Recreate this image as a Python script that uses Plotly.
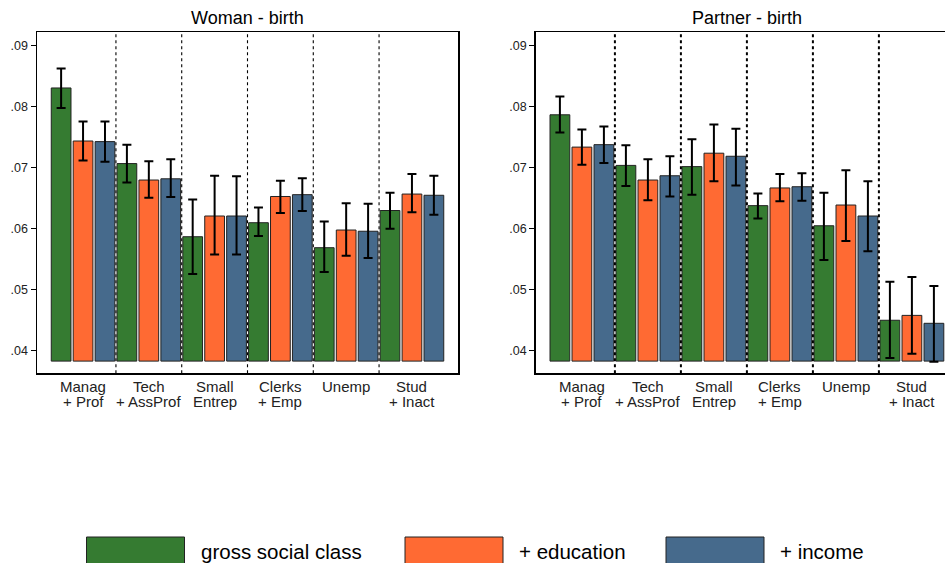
import plotly.graph_objects as go

W, H = 945, 563

categories_line1 = ["Manag", "Tech", "Small", "Clerks", "Unemp", "Stud"]
categories_line2 = ["+ Prof", "+ AssProf", "Entrep", "+ Emp", "", "+ Inact"]
series_names = ["gross social class", "+ education", "+ income"]
colors = ["#357b31", "#ff6a33", "#466a8c"]
bar_base = 0.0382

# Woman - birth
woman_val = [
    [0.0830, 0.0706, 0.0586, 0.0609, 0.0568, 0.0629],
    [0.0743, 0.0679, 0.0620, 0.0652, 0.0597, 0.0656],
    [0.0742, 0.0681, 0.0620, 0.0655, 0.0595, 0.0654],
]
woman_hi = [
    [0.0862, 0.0737, 0.0647, 0.0634, 0.0611, 0.0658],
    [0.0775, 0.0710, 0.0686, 0.0678, 0.0641, 0.0689],
    [0.0775, 0.0713, 0.0685, 0.0682, 0.0640, 0.0686],
]
woman_lo = [
    [0.0797, 0.0675, 0.0525, 0.0587, 0.0528, 0.0599],
    [0.0711, 0.0650, 0.0557, 0.0625, 0.0555, 0.0626],
    [0.0709, 0.0651, 0.0557, 0.0628, 0.0551, 0.0622],
]

# Partner - birth
partner_val = [
    [0.0786, 0.0703, 0.0701, 0.0637, 0.0604, 0.0449],
    [0.0733, 0.0679, 0.0723, 0.0666, 0.0638, 0.0457],
    [0.0737, 0.0686, 0.0718, 0.0668, 0.0620, 0.0444],
]
partner_hi = [
    [0.0816, 0.0736, 0.0746, 0.0657, 0.0658, 0.0512],
    [0.0762, 0.0713, 0.0770, 0.0689, 0.0695, 0.0520],
    [0.0767, 0.0718, 0.0763, 0.0690, 0.0677, 0.0505],
]
partner_lo = [
    [0.0757, 0.0669, 0.0655, 0.0616, 0.0548, 0.0387],
    [0.0704, 0.0646, 0.0677, 0.0644, 0.0579, 0.0394],
    [0.0707, 0.0652, 0.0670, 0.0645, 0.0562, 0.0381],
]

ytick_vals = [0.04, 0.05, 0.06, 0.07, 0.08, 0.09]
ytick_text = [".04", ".05", ".06", ".07", ".08", ".09"]

xs = list(range(len(categories_line1)))

fig = go.Figure()

def add_panel(vals, his, los, xa, ya):
    for k in range(3):
        v = vals[k]
        fig.add_trace(go.Bar(
            x=xs, y=[a - bar_base for a in v], base=bar_base,
            name=series_names[k], showlegend=False,
            marker=dict(color=colors[k], line=dict(color="#222222", width=1)),
            error_y=dict(type="data", symmetric=False,
                         array=[h - a for h, a in zip(his[k], v)],
                         arrayminus=[a - l for a, l in zip(v, los[k])],
                         color="black", thickness=2, width=4.5),
            xaxis=xa, yaxis=ya, offsetgroup=str(k),
        ))

add_panel(woman_val, woman_hi, woman_lo, "x", "y")
add_panel(partner_val, partner_hi, partner_lo, "x2", "y2")

px = lambda p: p / W
py = lambda p: 1 - p / H

UNIT = 66.0
left_dom = [px(37), px(458)]
right_dom = [px(535.7), 1.0]
right_end = -0.7 + (W - 535.7) / UNIT
y_dom = [py(373.3), py(32.3)]
y_rng = [0.0362, 0.09213]

FAM = "Liberation Sans, Arial, sans-serif"
cat_font = dict(family=FAM, size=15, color="#222222")
tick_font = dict(family=FAM, size=12.5, color="#222222")

common_x = dict(tickvals=xs, showticklabels=False, ticks="", showgrid=False, zeroline=False,
                showline=True, linecolor="black", linewidth=1.5)
common_y = dict(range=y_rng, tickvals=ytick_vals, ticktext=ytick_text, ticks="outside",
                ticklen=5, tickcolor="black", tickwidth=1, showgrid=False, zeroline=False,
                showline=True, linecolor="black", linewidth=1.5, tickfont=tick_font)

fig.update_layout(
    width=W, height=H,
    margin=dict(l=0, r=0, t=0, b=0),
    paper_bgcolor="white", plot_bgcolor="white",
    barmode="group", bargap=0, bargroupgap=0.1,
    hovermode=False,
    xaxis=dict(domain=left_dom, range=[-0.7, 5.7], anchor="y", mirror=True, **common_x),
    yaxis=dict(domain=y_dom, anchor="x", mirror=True, **common_y),
    xaxis2=dict(domain=right_dom, range=[-0.7, right_end], anchor="y2", mirror=True, **common_x),
    yaxis2=dict(domain=y_dom, anchor="x2", mirror=False, **common_y),
)

# category labels (two lines, tight spacing)
for xa in ("x", "x2"):
    for i in range(len(xs)):
        fig.add_annotation(text=categories_line1[i], x=xs[i], y=py(386.5), xref=xa, yref="paper",
                           showarrow=False, font=cat_font, xanchor="center", yanchor="middle")
        if categories_line2[i]:
            fig.add_annotation(text=categories_line2[i], x=xs[i], y=py(401.5), xref=xa,
                               yref="paper", showarrow=False, font=cat_font,
                               xanchor="center", yanchor="middle")

# group dividers
for xa, ya, lw in (("x", "y domain", 1.1), ("x2", "y2 domain", 2)):
    for d in [0.5, 1.5, 2.5, 3.5, 4.5]:
        fig.add_shape(type="line", xref=xa, yref=ya, x0=d, x1=d, y0=0, y1=1,
                      line=dict(color="black", width=lw, dash="3px,3px"), layer="above")

title_font = dict(family=FAM, size=18, color="black")
fig.add_annotation(text="Woman - birth", x=px(247.5), y=py(18), xref="paper", yref="paper",
                   showarrow=False, font=title_font, xanchor="center", yanchor="middle")
fig.add_annotation(text="Partner - birth", x=px(746.5), y=py(18), xref="paper", yref="paper",
                   showarrow=False, font=title_font, xanchor="center", yanchor="middle")

# legend (drawn manually)
leg_font = dict(family=FAM, size=20.5, color="black")
box_x = [86.5, 405, 666]
for k in range(3):
    fig.add_shape(type="rect", xref="paper", yref="paper",
                  x0=px(box_x[k]), x1=px(box_x[k] + 98), y0=py(537), y1=py(580),
                  fillcolor=colors[k], line=dict(color="#222222", width=1))
    fig.add_annotation(text=series_names[k], x=px(box_x[k] + 112), y=py(551),
                       xref="paper", yref="paper", showarrow=False, font=leg_font,
                       xanchor="left", yanchor="middle")

fig.write_html("out.html", config={"displayModeBar": False, "staticPlot": True},
               post_script="document.body.style.margin='0px';document.body.style.overflow='hidden';")
